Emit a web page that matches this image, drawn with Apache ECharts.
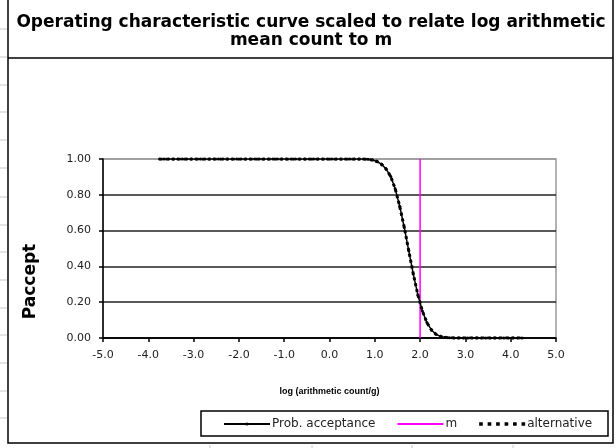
<!DOCTYPE html>
<html>
<head>
<meta charset="utf-8">
<script src="https://cdn.jsdelivr.net/npm/echarts@6/dist/echarts.min.js"></script>
<style>
  html, body { margin: 0; padding: 0; background: #fff; }
  #chart { width: 616px; height: 448px; }
</style>
</head>
<body>
<div id="chart"></div>
<script>
// log(arithmetic count/g) values where the curve is evaluated
const logCounts = [
  -3.75, -3.65, -3.55, -3.45, -3.35, -3.25, -3.15, -3.05, -2.95, -2.85,
  -2.75, -2.65, -2.55, -2.45, -2.35, -2.25, -2.15, -2.05, -1.95, -1.85,
  -1.75, -1.65, -1.55, -1.45, -1.35, -1.25, -1.15, -1.05, -0.95, -0.85,
  -0.75, -0.65, -0.55, -0.45, -0.35, -0.25, -0.15, -0.05, 0.05, 0.15,
  0.25, 0.35, 0.45, 0.55, 0.65, 0.75, 0.85, 0.95, 1.05, 1.15,
  1.25, 1.35, 1.45, 1.55, 1.65, 1.75, 1.85, 1.95, 2.05, 2.15,
  2.25, 2.35, 2.45, 2.55, 2.65, 2.75, 2.85, 2.95, 3.05, 3.15,
  3.25, 3.35, 3.45, 3.55, 3.65, 3.75, 3.85, 3.95, 4.05, 4.15,
  4.25
];

// Probability of acceptance at each log count
const probAcceptance = [
  1.000, 1.000, 1.000, 1.000, 1.000, 1.000, 1.000, 1.000, 1.000, 1.000,
  1.000, 1.000, 1.000, 1.000, 1.000, 1.000, 1.000, 1.000, 1.000, 1.000,
  1.000, 1.000, 1.000, 1.000, 1.000, 1.000, 1.000, 1.000, 1.000, 1.000,
  1.000, 1.000, 1.000, 1.000, 1.000, 1.000, 1.000, 1.000, 1.000, 1.000,
  1.000, 1.000, 1.000, 1.000, 0.9999, 0.9995, 0.998, 0.994, 0.986, 0.970,
  0.944, 0.903, 0.834, 0.736, 0.618, 0.487, 0.357, 0.242, 0.151, 0.086,
  0.045, 0.021, 0.009, 0.0035, 0.0012, 0.0004, 0, 0, 0, 0,
  0, 0, 0, 0, 0, 0, 0, 0, 0, 0,
  0
];

// Alternative calculation of the same curve
const altAcceptance = [
  1.000, 1.000, 1.000, 1.000, 1.000, 1.000, 1.000, 1.000, 1.000, 1.000,
  1.000, 1.000, 1.000, 1.000, 1.000, 1.000, 1.000, 1.000, 1.000, 1.000,
  1.000, 1.000, 1.000, 1.000, 1.000, 1.000, 1.000, 1.000, 1.000, 1.000,
  1.000, 1.000, 1.000, 1.000, 1.000, 1.000, 1.000, 1.000, 1.000, 1.000,
  1.000, 1.000, 1.000, 1.000, 0.9999, 0.9995, 0.998, 0.994, 0.986, 0.970,
  0.944, 0.903, 0.834, 0.736, 0.618, 0.487, 0.357, 0.242, 0.151, 0.086,
  0.045, 0.021, 0.009, 0.0035, 0.0012, 0.0004, 0, 0, 0, 0,
  0, 0, 0, 0, 0, 0, 0, 0, 0, 0,
  0
];

// Microbiological limit m (log count) drawn as a vertical line
const mLogX = [2.0, 2.0];
const mLogY = [0, 1];

const xTicks = { min: -5, max: 5, step: 1 };
const yTicks = { min: 0, max: 1, step: 0.2 };

const pairs = (xs, ys) => xs.map((x, i) => [x, ys[i]]);

const chart = echarts.init(document.getElementById('chart'), null, { renderer: 'canvas' });

// Spreadsheet cell lines peeking around the chart object
const sheetLines = [];
[29, 57, 85, 112, 140, 168, 197, 225, 252, 280, 308, 335, 363, 391, 418].forEach(y => {
  sheetLines.push({ type: 'line', shape: { x1: 0, y1: y, x2: 7, y2: y },
    style: { stroke: '#c8c8c8', lineWidth: 1 }, silent: true });
});
[210, 312, 412, 513].forEach(x => {
  sheetLines.push({ type: 'line', shape: { x1: x, y1: 445, x2: x, y2: 448 },
    style: { stroke: '#c8c8c8', lineWidth: 1 }, silent: true });
});

const fontWide = '"DejaVu Sans", Verdana, sans-serif';
const fontArial = 'Arial, "Liberation Sans", sans-serif';

// Legend icons: plain magenta rule and a row of square dots
const ruleIcon = 'path://M0,0H46V2H0Z';
const dotsIcon = 'path://M0,0h3.2v3.2h-3.2z M7.4,0h3.2v3.2h-3.2z M14.8,0h3.2v3.2h-3.2z M22.2,0h3.2v3.2h-3.2z M29.6,0h3.2v3.2h-3.2z M37,0h3.2v3.2h-3.2z';

chart.setOption({
  backgroundColor: '#ffffff',
  animation: false,
  title: {
    text: 'Operating characteristic curve scaled to relate log arithmetic\nmean count to m',
    left: 306,
    textAlign: 'center',
    top: 9,
    textStyle: {
      fontFamily: fontWide,
      fontSize: 17,
      fontWeight: 'bold',
      color: '#000',
      lineHeight: 18
    }
  },
  grid: {
    left: 103, right: 60, top: 159, bottom: 110,
    show: true,
    borderColor: '#999',
    borderWidth: 1.5,
    backgroundColor: '#fff'
  },
  legend: {
    left: 223,
    top: 418,
    padding: 0,
    itemWidth: 46,
    itemHeight: 4,
    itemGap: 22,
    symbolKeepAspect: true,
    selectedMode: false,
    textStyle: { fontFamily: fontWide, fontSize: 12, color: '#222', padding: [0, 0, 0, -3] },
    data: [
      { name: 'Prob. acceptance' },
      { name: 'm', icon: ruleIcon },
      { name: 'alternative', icon: dotsIcon }
    ]
  },
  xAxis: {
    type: 'value',
    min: xTicks.min, max: xTicks.max, interval: xTicks.step,
    name: 'log (arithmetic count/g)',
    nameLocation: 'middle',
    nameGap: 49,
    nameTextStyle: { fontFamily: fontArial, fontSize: 9, fontWeight: 'bold', color: '#000' },
    axisLine: { onZero: false, lineStyle: { color: '#000', width: 1.5 } },
    axisTick: { show: true, length: 4, lineStyle: { color: '#000', width: 1.5 } },
    axisLabel: { fontFamily: fontWide, fontSize: 11, color: '#222', margin: 12,
      formatter: v => v.toFixed(1) },
    splitLine: { show: false }
  },
  yAxis: {
    type: 'value',
    min: yTicks.min, max: yTicks.max, interval: yTicks.step,
    name: 'Paccept',
    nameLocation: 'middle',
    nameGap: 64,
    nameRotate: 90,
    nameTextStyle: { fontFamily: fontWide, fontSize: 17, fontWeight: 'bold', color: '#000',
      padding: [0, 66, 0, 0] },
    axisLine: { show: true, onZero: false, lineStyle: { color: '#000', width: 1.5 } },
    axisTick: { show: true, length: 4, lineStyle: { color: '#000', width: 1.5 } },
    axisLabel: { fontFamily: fontWide, fontSize: 11, color: '#222', margin: 12,
      formatter: v => v.toFixed(2) },
    splitLine: { show: true, lineStyle: {
      color: ['#000', '#222', '#222', '#222', '#222', '#999'], width: 1.5 } }
  },
  series: [
    {
      name: 'Prob. acceptance',
      type: 'line',
      data: pairs(logCounts, probAcceptance),
      symbol: 'circle',
      symbolSize: 3,
      showSymbol: true,
      itemStyle: { color: '#000' },
      lineStyle: { color: '#000', width: 1.5 },
      z: 3
    },
    {
      name: 'm',
      type: 'line',
      data: pairs(mLogX, mLogY),
      symbol: 'none',
      itemStyle: { color: '#ff00ff' },
      lineStyle: { color: '#ff00ff', width: 1.5 },
      z: 2
    },
    {
      name: 'alternative',
      type: 'line',
      data: pairs(logCounts, altAcceptance),
      symbol: 'none',
      itemStyle: { color: '#000' },
      lineStyle: { color: '#000', width: 3, type: [3, 3] },
      z: 4
    }
  ],
  graphic: sheetLines.concat([
    // chart object frame and title divider
    { type: 'rect', shape: { x: 8, y: -5, width: 605, height: 448 },
      style: { fill: null, stroke: '#000', lineWidth: 1.5 }, silent: true, z: 10 },
    { type: 'line', shape: { x1: 8, y1: 58, x2: 613, y2: 58 },
      style: { stroke: '#000', lineWidth: 1.5 }, silent: true, z: 10 },
    // legend box
    { type: 'rect', shape: { x: 201, y: 411, width: 407, height: 25 },
      style: { fill: null, stroke: '#000', lineWidth: 1.5 }, silent: true, z: 10 }
  ])
});
</script>
</body>
</html>
